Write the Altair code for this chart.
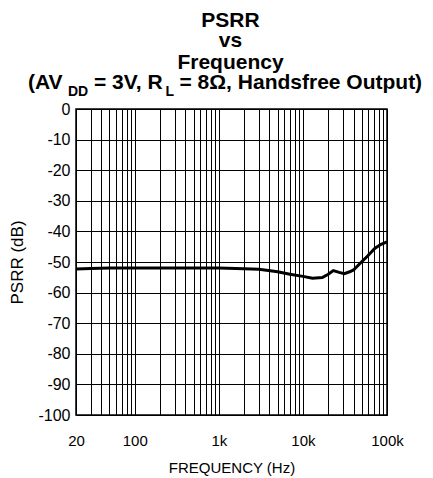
import altair as alt
import pandas as pd

# ---- data ----
freq_hz = [20, 30, 50, 100, 200, 500, 1000, 2000, 3000, 5000, 7000, 10000,
           13000, 17000, 20000, 23000, 27000, 31000, 36000, 40000, 48000,
           58000, 72000, 85000, 100000]
psrr_db = [-52.3, -52.1, -52.0, -52.0, -52.0, -52.0, -52.0, -52.2, -52.4,
           -53.2, -54.0, -54.7, -55.3, -55.1, -54.0, -52.8, -53.4, -53.8,
           -53.2, -52.6, -50.4, -48.2, -45.5, -44.2, -43.4]

x_grid = [20, 30, 40, 50, 60, 70, 80, 90,
          100, 200, 300, 400, 500, 600, 700, 800, 900,
          1000, 2000, 3000, 4000, 5000, 6000, 7000, 8000, 9000,
          10000, 20000, 30000, 40000, 50000, 60000, 70000, 80000, 90000,
          100000]
x_label_values = [20, 100, 1000, 10000, 100000]
x_label_texts = ["20", "100", "1k", "10k", "100k"]
y_ticks = [-100, -90, -80, -70, -60, -50, -40, -30, -20, -10, 0]

df = pd.DataFrame({"freq": freq_hz, "psrr": psrr_db})

label_expr = "".join(
    f"datum.value == {v} ? '{t}' : " for v, t in zip(x_label_values, x_label_texts)
) + "''"

FONT = "Liberation Sans"

line = alt.Chart(df).mark_line(color="black", strokeWidth=3, clip=True).encode(
    x=alt.X(
        "freq:Q",
        scale=alt.Scale(type="log", domain=[20, 100000], nice=False),
        axis=alt.Axis(values=x_grid, labelExpr=label_expr,
                      title="FREQUENCY (Hz)", labelPadding=18, titlePadding=12,
                      labelFontSize=15, titleFontSize=15),
    ),
    y=alt.Y(
        "psrr:Q",
        scale=alt.Scale(domain=[-100, 0], nice=False),
        axis=alt.Axis(values=y_ticks, title="PSRR (dB)",
                      labelExpr="'' + datum.value",
                      labelPadding=6, titlePadding=11,
                      labelFontSize=16, titleFontSize=17),
    ),
)

one = pd.DataFrame({"a": [0]})


def txt(text, x, y, size, align="center"):
    return alt.Chart(one).mark_text(
        text=text, font=FONT, fontWeight="bold", fontSize=size,
        align=align, baseline="alphabetic", color="black",
    ).encode(x=alt.value(x), y=alt.value(y))


titles = [
    # page header, cut off at the top edge in the reference
    txt("Typical Performance Characteristics", 114, -112, 29, "left"),
    txt("PSRR", 154.5, -82, 21),
    txt("vs", 154.5, -62, 21),
    txt("Frequency", 154.5, -40.5, 21),
    txt("(AV", -48, -20, 21, "left"),
    txt("DD", -8, -13.5, 14, "left"),
    txt("= 3V, R", 18, -20, 21, "left"),
    txt("L", 89.5, -13.5, 14, "left"),
    txt("= 8\u03a9, Handsfree Output)", 103.5, -20, 21, "left"),
]

chart = alt.layer(line, *titles).properties(
    width=311, height=306,
    autosize=alt.AutoSizeParams(type="none"),
    padding={"left": 68, "top": 101, "right": 38, "bottom": 61},
).configure_view(
    stroke="black", strokeWidth=1.5
).configure_axis(
    grid=True, gridColor="black", gridWidth=1, gridOpacity=1,
    domain=False, ticks=False, tickSize=0,
    labelFont=FONT, labelColor="black",
    titleFont=FONT, titleFontWeight="normal", titleColor="black",
    labelFlush=False, labelOverlap=False,
)

chart.save("out.html", embed_options={"renderer": "svg", "actions": False})
